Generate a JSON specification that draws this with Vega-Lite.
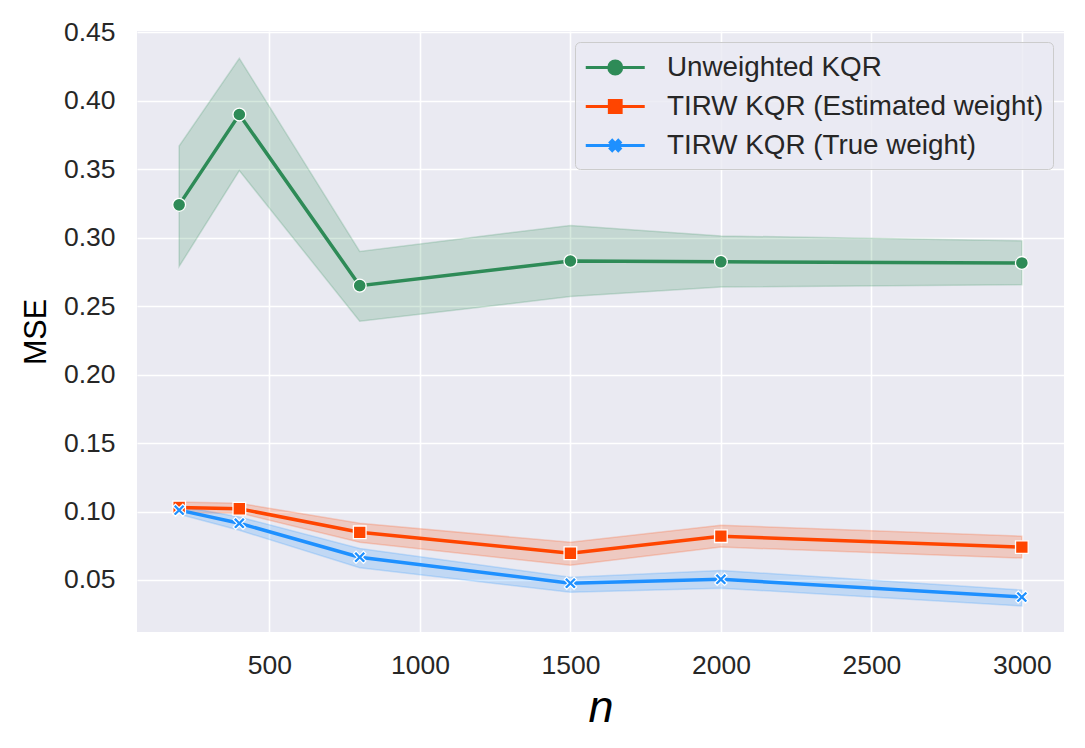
{
  "$schema": "https://vega.github.io/schema/vega-lite/v6.json",
  "width": 927,
  "height": 601,
  "autosize": "none",
  "padding": {"left": 137, "top": 31, "right": 21, "bottom": 116},
  "background": "white",
  "config": {
    "font": "Liberation Sans",
    "view": {"fill": "#EAEAF2", "stroke": null},
    "axis": {
      "domain": false,
      "ticks": false,
      "tickSize": 0,
      "gridColor": "white",
      "gridWidth": 1.6,
      "labelFont": "Liberation Sans",
      "labelFontSize": 26.5,
      "labelColor": "#262626",
      "titleFont": "Liberation Sans",
      "titleColor": "#000000",
      "titleFontWeight": "normal"
    }
  },
  "data": {
    "values": [
      {"series": "Unweighted KQR", "n": 200, "mse": 0.324, "lo": 0.279, "hi": 0.367},
      {"series": "Unweighted KQR", "n": 400, "mse": 0.390, "lo": 0.349, "hi": 0.431},
      {"series": "Unweighted KQR", "n": 800, "mse": 0.265, "lo": 0.239, "hi": 0.290},
      {"series": "Unweighted KQR", "n": 1500, "mse": 0.283, "lo": 0.257, "hi": 0.309},
      {"series": "Unweighted KQR", "n": 2000, "mse": 0.2824, "lo": 0.264, "hi": 0.3013},
      {"series": "Unweighted KQR", "n": 3000, "mse": 0.2816, "lo": 0.2656, "hi": 0.2977},
      {"series": "TIRW KQR (Estimated weight)", "n": 200, "mse": 0.103, "lo": 0.099, "hi": 0.107},
      {"series": "TIRW KQR (Estimated weight)", "n": 400, "mse": 0.102, "lo": 0.099, "hi": 0.106},
      {"series": "TIRW KQR (Estimated weight)", "n": 800, "mse": 0.0848, "lo": 0.0775, "hi": 0.0914},
      {"series": "TIRW KQR (Estimated weight)", "n": 1500, "mse": 0.0695, "lo": 0.0608, "hi": 0.0775},
      {"series": "TIRW KQR (Estimated weight)", "n": 2000, "mse": 0.082, "lo": 0.074, "hi": 0.090},
      {"series": "TIRW KQR (Estimated weight)", "n": 3000, "mse": 0.074, "lo": 0.066, "hi": 0.082},
      {"series": "TIRW KQR (True weight)", "n": 200, "mse": 0.101, "lo": 0.098, "hi": 0.104},
      {"series": "TIRW KQR (True weight)", "n": 400, "mse": 0.0914, "lo": 0.0863, "hi": 0.096},
      {"series": "TIRW KQR (True weight)", "n": 800, "mse": 0.0666, "lo": 0.059, "hi": 0.073},
      {"series": "TIRW KQR (True weight)", "n": 1500, "mse": 0.0476, "lo": 0.041, "hi": 0.052},
      {"series": "TIRW KQR (True weight)", "n": 2000, "mse": 0.0505, "lo": 0.044, "hi": 0.057},
      {"series": "TIRW KQR (True weight)", "n": 3000, "mse": 0.0375, "lo": 0.031, "hi": 0.0426}
    ]
  },
  "encoding": {
    "x": {
      "field": "n",
      "type": "quantitative",
      "scale": {"domain": [60, 3140], "nice": false, "zero": false},
      "axis": {
        "values": [500, 1000, 1500, 2000, 2500, 3000],
        "format": "d",
        "labelPadding": 20,
        "title": "n",
        "titleFontSize": 45,
        "titleFontStyle": "italic",
        "titlePadding": 7
      }
    },
    "color": {
      "field": "series",
      "type": "nominal",
      "scale": {
        "domain": ["Unweighted KQR", "TIRW KQR (Estimated weight)", "TIRW KQR (True weight)"],
        "range": ["#2E8B57", "#FF4500", "#1E90FF"]
      },
      "legend": {
        "title": null,
        "orient": "top-right",
        "offset": 11,
        "padding": 9,
        "fillColor": "rgba(234,234,242,0.8)",
        "strokeColor": "#CCCCCC",
        "cornerRadius": 5,
        "labelFont": "Liberation Sans",
        "labelFontSize": 27.8,
        "labelColor": "#262626",
        "labelLimit": 600,
        "symbolSize": 870,
        "symbolStrokeWidth": 3,
        "labelOffset": 50,
        "rowPadding": 8,
        "encode": {
          "symbols": {
            "update": {
              "shape": {"signal": "datum.value == 'Unweighted KQR' ? 'M-1,0H3M1.44,0A0.44,0.44,0,1,1,0.56,0A0.44,0.44,0,1,1,1.44,0Z' : datum.value == 'TIRW KQR (Estimated weight)' ? 'M-1,0H3M0.6,-0.4H1.4V0.4H0.6Z' : 'M-1,0H3M1,-0.136L1.204,-0.34L1.34,-0.204L1.136,0L1.34,0.204L1.204,0.34L1,0.136L0.796,0.34L0.66,0.204L0.864,0L0.66,-0.204L0.796,-0.34Z'"},
              "fill": {"scale": "color", "field": "value"},
              "stroke": {"scale": "color", "field": "value"},
              "strokeWidth": {"value": 3},
              "opacity": {"value": 1},
              "fillOpacity": {"value": 1},
              "strokeOpacity": {"value": 1}
            }
          }
        }
      }
    }
  },
  "layer": [
    {
      "mark": {"type": "area", "fillOpacity": 0.2, "strokeOpacity": 0.2, "strokeWidth": 1.5},
      "encoding": {
        "y": {
          "field": "lo",
          "type": "quantitative",
          "scale": {"domain": [0.012, 0.451], "nice": false, "zero": false},
          "axis": {
            "values": [0.05, 0.1, 0.15, 0.2, 0.25, 0.3, 0.35, 0.4, 0.45],
            "format": ".2f",
            "labelPadding": 22,
            "title": "MSE",
            "titleFontSize": 30.5,
            "titlePadding": 12
          }
        },
        "y2": {"field": "hi"},
        "stroke": {"field": "series", "type": "nominal", "scale": {"domain": ["Unweighted KQR", "TIRW KQR (Estimated weight)", "TIRW KQR (True weight)"], "range": ["#2E8B57", "#FF4500", "#1E90FF"]}, "legend": null}
      }
    },
    {
      "mark": {"type": "line", "strokeWidth": 3.5},
      "encoding": {
        "y": {"field": "mse", "type": "quantitative"}
      }
    },
    {
      "transform": [{"filter": "datum.series == 'Unweighted KQR'"}],
      "mark": {"type": "point", "shape": "circle", "filled": true, "opacity": 1, "stroke": "white", "strokeWidth": 1.3, "size": 165},
      "encoding": {
        "y": {"field": "mse", "type": "quantitative"}
      }
    },
    {
      "transform": [{"filter": "datum.series == 'TIRW KQR (Estimated weight)'"}],
      "mark": {"type": "point", "shape": "square", "filled": true, "opacity": 1, "stroke": "white", "strokeWidth": 1.3, "size": 160},
      "encoding": {
        "y": {"field": "mse", "type": "quantitative"}
      }
    },
    {
      "transform": [{"filter": "datum.series == 'TIRW KQR (True weight)'"}],
      "mark": {"type": "point", "shape": "M0,-0.4L0.6,-1L1,-0.6L0.4,0L1,0.6L0.6,1L0,0.4L-0.6,1L-1,0.6L-0.4,0L-1,-0.6L-0.6,-1Z", "filled": true, "opacity": 1, "stroke": "white", "strokeWidth": 1.2, "size": 150},
      "encoding": {
        "y": {"field": "mse", "type": "quantitative"}
      }
    }
  ]
}
